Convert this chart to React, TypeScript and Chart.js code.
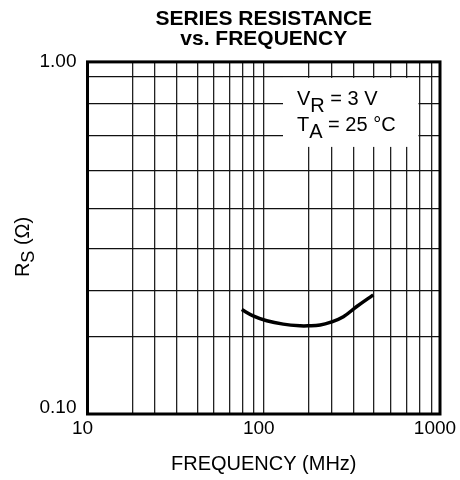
import { useEffect, useRef } from 'react';
import { Chart, registerables } from 'chart.js';

Chart.register(...registerables);

// ---- data ----
const FREQ_MHZ = [75, 87, 104, 129, 161, 179, 209, 238, 283, 337, 418];
const RS_OHM = [0.198, 0.19, 0.184, 0.18, 0.178, 0.178, 0.179, 0.182, 0.189, 0.202, 0.218];

// grid lines as drawn on the reference
const X_GRID = [10, 18, 24, 32, 42, 52, 64, 76, 88, 100, 180, 244, 324, 421, 524, 643, 768, 891, 1000];
const Y_GRID = [0.1, 0.166, 0.224, 0.294, 0.382, 0.49, 0.616, 0.76, 0.906, 1.0];

// tick labels
const X_TICK_LABELS: Record<string, string> = { '10': '10', '100': '100', '1000': '1000' };
const Y_TICK_LABELS: Record<string, string> = { '0.1': '0.10', '1': '1.00' };

const TITLE_LINES = ['SERIES RESISTANCE', 'vs. FREQUENCY'];
const X_TITLE = 'FREQUENCY (MHz)';
type Run = [string, boolean]; // text, subscript
const Y_TITLE: Run[] = [['R', false], ['S', true], [' (Ω)', false]];
const CONDITIONS: Run[][] = [
  [['V', false], ['R', true], [' = 3 V', false]],
  [['T', false], ['A', true], [' = 25 °C', false]],
];

const FONT = '"Liberation Sans", Arial, Helvetica, sans-serif';

function runsWidth(ctx: CanvasRenderingContext2D, runs: Run[], size: number, subSize: number) {
  let w = 0;
  for (const [t, sub] of runs) {
    ctx.font = `${sub ? subSize : size}px ${FONT}`;
    w += ctx.measureText(t).width;
  }
  return w;
}

function drawRuns(ctx: CanvasRenderingContext2D, runs: Run[], x: number, y: number, size: number, subSize: number, subShift: number) {
  let cx = x;
  ctx.textBaseline = 'alphabetic';
  ctx.textAlign = 'left';
  for (const [t, sub] of runs) {
    ctx.font = `${sub ? subSize : size}px ${FONT}`;
    ctx.fillText(t, cx, sub ? y + subShift : y);
    cx += ctx.measureText(t).width;
  }
}

const decorPlugin = {
  id: 'decor',
  beforeDatasetsDraw(chart: any) {
    const { ctx, chartArea } = chart;
    const left = chartArea.left + 195.5;
    const top = chartArea.top + 16;
    ctx.save();
    ctx.fillStyle = '#ffffff';
    ctx.fillRect(left, top, 135.5, 69);
    ctx.fillStyle = '#000';
    drawRuns(ctx, CONDITIONS[0], left + 14, top + 27, 20, 20, 7);
    drawRuns(ctx, CONDITIONS[1], left + 14, top + 53, 20, 20, 7);
    ctx.restore();
  },
  afterDraw(chart: any) {
    const { ctx, chartArea } = chart;
    ctx.save();
    ctx.strokeStyle = '#000';
    ctx.lineWidth = 3;
    ctx.strokeRect(chartArea.left, chartArea.top, chartArea.right - chartArea.left, chartArea.bottom - chartArea.top);
    // rotated y-axis title with subscript
    const cy = (chartArea.top + chartArea.bottom) / 2 + 9;
    ctx.fillStyle = '#000';
    const w = runsWidth(ctx, Y_TITLE, 20, 18);
    ctx.translate(29, cy);
    ctx.rotate(-Math.PI / 2);
    drawRuns(ctx, Y_TITLE, -w / 2, 0, 20, 18, 5);
    ctx.restore();
  },
};

export default function App() {
  const ref = useRef<HTMLCanvasElement>(null);
  useEffect(() => {
    Chart.defaults.font.family = FONT;
    Chart.defaults.color = '#000';
    const chart = new Chart(ref.current as HTMLCanvasElement, {
      type: 'line',
      data: {
        datasets: [
          {
            data: FREQ_MHZ.map((f, i) => ({ x: f, y: RS_OHM[i] })),
            borderColor: '#000',
            borderWidth: 3.5,
            pointRadius: 0,
            tension: 0.4,
            fill: false,
          },
        ],
      },
      options: {
        responsive: false,
        animation: false,
        devicePixelRatio: 1,
        layout: { padding: { left: 0, right: 20, top: 0, bottom: 0 } },
        plugins: {
          legend: { display: false },
          tooltip: { enabled: false },
          title: {
            display: true,
            text: TITLE_LINES,
            color: '#000',
            fullSize: false,
            font: { size: 21, weight: 'bold', lineHeight: 0.95 },
            padding: { top: 9, bottom: 13 },
          },
        },
        scales: {
          x: {
            type: 'logarithmic',
            min: 10,
            max: 1000,
            border: { display: false },
            grid: { color: '#222', lineWidth: 1.3, drawTicks: false },
            ticks: {
              autoSkip: false,
              maxRotation: 0,
              minRotation: 0,
              padding: 3,
              labelOffset: -5,
              font: { size: 19 },
              color: '#000',
              callback: (v: any) => X_TICK_LABELS[String(v)] ?? '',
            },
            title: {
              display: true,
              text: X_TITLE,
              color: '#000',
              font: { size: 20 },
              padding: { top: 0, bottom: 4 },
            },
            afterBuildTicks: (s: any) => {
              s.ticks = X_GRID.map((v) => ({ value: v }));
            },
            afterFit: (s: any) => {
              s.height = 66;
              s.paddingLeft = 0;
              s.paddingRight = 0;
            },
          },
          y: {
            type: 'logarithmic',
            min: 0.1,
            max: 1.0,
            border: { display: false },
            grid: { color: '#111', lineWidth: 1.3, drawTicks: false },
            ticks: {
              autoSkip: false,
              padding: 11,
              font: { size: 19, lineHeight: '12px' },
              color: '#000',
              callback: (v: any) => {
                const k = String(v);
                if (k === '0.1') return ['0.10', ''];
                return Y_TICK_LABELS[k] ?? '';
              },
            },
            afterBuildTicks: (s: any) => {
              s.ticks = Y_GRID.map((v) => ({ value: v }));
            },
            afterFit: (s: any) => {
              s.width = 87.5;
              s.paddingTop = 0;
              s.paddingBottom = 0;
            },
          },
        },
      } as any,
      plugins: [decorPlugin],
    });
    return () => chart.destroy();
  }, []);
  return (
    <div style={{ position: 'fixed', left: 0, top: 0, width: 460, height: 480, background: '#fff' }}>
      <canvas ref={ref} width={460} height={480} style={{ display: 'block', width: 460, height: 480 }} />
    </div>
  );
}
